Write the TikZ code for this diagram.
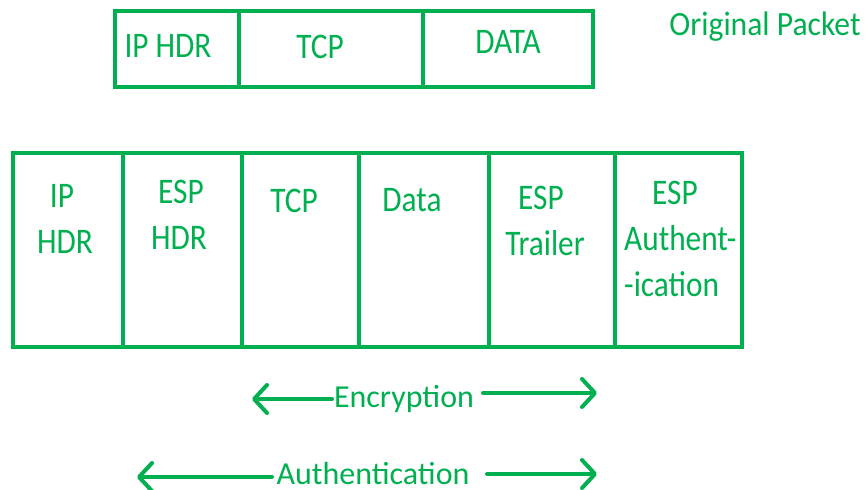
\documentclass[tikz,border=0pt]{standalone}
\usepackage{fontspec}
\setmainfont{Carlito}
\newfontfamily\boxfont[FakeStretch=0.87]{Carlito}
\newfontfamily\origfont[FakeStretch=0.93]{Carlito}
\usetikzlibrary{arrows.meta}
\definecolor{pg}{HTML}{00B050}
\begin{document}
\begin{tikzpicture}[x=1pt,y=-1pt,
  cell/.style={draw=pg,line width=4pt,inner sep=0pt,outer sep=0pt},
  lbl/.style={text=pg,font=\boxfont\fontsize{36}{42}\selectfont,inner sep=0pt,anchor=base},
  lbll/.style={lbl,anchor=base west},
  olbl/.style={lbl,font=\origfont\fontsize{34}{40}\selectfont},
  albl/.style={lbl,font=\fontsize{32}{38}\selectfont},
  arr/.style={draw=pg,line width=4pt,line cap=round,-{Straight Barb[length=13pt,width=28pt,line cap=round,line join=round]}}]
\useasboundingbox (0,0) rectangle (868,490);
% original packet
\node[cell,minimum width=124pt,minimum height=76.5pt] (t1) at (177,48.75) {};
\node[cell,minimum width=184pt,minimum height=76.5pt] (t2) at (331,48.75) {};
\node[cell,minimum width=170pt,minimum height=76.5pt] (t3) at (508,48.75) {};
\node[lbl] (t1l) at (168,57) {IP HDR};
\node[lbl] (t2l) at (320,58) {TCP};
\node[lbl] (t3l) at (508,53) {DATA};
\node[olbl] (orig) at (765,35) {Original Packet};
% ESP packet
\node[cell,minimum width=110pt,minimum height=194pt] (b1) at (68,250) {};
\node[cell,minimum width=119pt,minimum height=194pt] (b2) at (182.5,250) {};
\node[cell,minimum width=117pt,minimum height=194pt] (b3) at (300.5,250) {};
\node[cell,minimum width=130pt,minimum height=194pt] (b4) at (424,250) {};
\node[cell,minimum width=126pt,minimum height=194pt] (b5) at (552,250) {};
\node[cell,minimum width=127pt,minimum height=194pt] (b6) at (678.5,250) {};
\node[lbl] (b1a) at (62,207) {IP};
\node[lbl] (b1b) at (65,253) {HDR};
\node[lbl] (b2a) at (181,203) {ESP};
\node[lbl] (b2b) at (179,249) {HDR};
\node[lbl] (b3a) at (294,212) {TCP};
\node[lbl] (b4a) at (412,211) {Data};
\node[lbl] (b5a) at (541,209) {ESP};
\node[lbl] (b5b) at (545,255) {Trailer};
\node[lbl] (b6a) at (675,204) {ESP};
\node[lbll] (b6b) at (624,250) {Authent-};
\node[lbll] (b6c) at (624,296) {-ication};
% arrows
\node[albl] (enc) at (404,407) {Encryption};
\coordinate (encLs) at (332,399);
\coordinate (encLe) at (252,399);
\coordinate (encRs) at (483,393);
\coordinate (encRe) at (597,393);
\draw[arr] (encLs) -- (encLe);
\draw[arr] (encRs) -- (encRe);
\node[albl] (auth) at (373,484) {Authentication};
\coordinate (authLs) at (272,477);
\coordinate (authLe) at (137,477);
\coordinate (authRs) at (487,474);
\coordinate (authRe) at (597,474);
\draw[arr] (authLs) -- (authLe);
\draw[arr] (authRs) -- (authRe);
\end{tikzpicture}
\end{document}
